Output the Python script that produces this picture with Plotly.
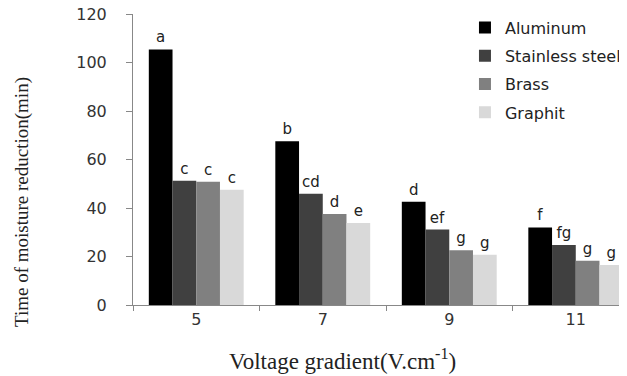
import plotly.graph_objects as go

categories = ["5", "7", "9", "11"]
series_names = ["Aluminum", "Stainless steel", "Brass", "Graphit"]
aluminum = [105.4, 67.5, 42.6, 32.0]
stainless = [51.2, 45.9, 31.1, 24.7]
brass = [50.8, 37.5, 22.6, 18.2]
graphit = [47.5, 33.8, 20.7, 16.5]
letters_aluminum = ["a", "b", "d", "f"]
letters_stainless = ["c", "cd", "ef", "fg"]
letters_brass = ["c", "d", "g", "g"]
letters_graphit = ["c", "e", "g", "g"]
y_ticks = [0, 20, 40, 60, 80, 100, 120]

values = [aluminum, stainless, brass, graphit]
letters = [letters_aluminum, letters_stainless, letters_brass, letters_graphit]
colors = ["#000000", "#404040", "#808080", "#d9d9d9"]

# page body has an 8px margin; figure is sized so it ends at the window edge
W, H = 619, 368
L, T = 125, 6
PW, PH = 494, 291

fig = go.Figure()
for i, name in enumerate(series_names):
    fig.add_trace(go.Bar(
        x=categories, y=values[i], name=name, marker_color=colors[i],
        marker_line_width=0, legendgroup=name,
        text=letters[i], textposition="outside", cliponaxis=False,
        textfont=dict(family="DejaVu Sans", size=15, color="#222"),
    ))

fig.update_layout(
    width=W, height=H,
    margin=dict(l=L, r=W - L - PW, t=T, b=H - T - PH, autoexpand=False),
    paper_bgcolor="white", plot_bgcolor="white",
    barmode="group", bargap=0.25, bargroupgap=0,
    legend=dict(x=0.672, y=1.012, xanchor="left", yanchor="top",
                font=dict(family="DejaVu Sans", size=16, color="#222"),
                itemwidth=30, tracegroupgap=4.5, bgcolor="rgba(0,0,0,0)"),
    showlegend=True,
)
fig.update_xaxes(
    range=[-0.5, 3.405], showline=True, linecolor="#888", linewidth=1,
    ticks="outside", tickson="boundaries", ticklen=5, tickcolor="#888",
    tickfont=dict(family="DejaVu Sans", size=16, color="#333"),
    showgrid=False, zeroline=False, automargin=False,
)
fig.update_yaxes(
    range=[0, 120], tickvals=y_ticks, showline=True, linecolor="#888", linewidth=1,
    ticks="outside", ticklen=6, tickcolor="#888",
    tickfont=dict(family="DejaVu Sans", size=16, color="#333"),
    showgrid=False, zeroline=False, ticklabelstandoff=16, automargin=False,
    ticklabeloverflow="allow",
)
fig.add_annotation(
    text="Time of moisture reduction(min)", xref="paper", yref="paper",
    x=(22 - 133) / PW, y=(305 - 202) / PH, xanchor="center", yanchor="middle",
    textangle=-90, showarrow=False,
    font=dict(family="Liberation Serif", size=19, color="#222"),
)
fig.add_annotation(
    text="Voltage gradient(V.cm<sup>-1</sup>)", xref="paper", yref="paper",
    x=(342 - 133) / PW, y=-(343 - 305) / PH, xanchor="center", yanchor="top",
    showarrow=False,
    font=dict(family="Liberation Serif", size=23, color="#222"),
)
fig.write_html("out.html")
